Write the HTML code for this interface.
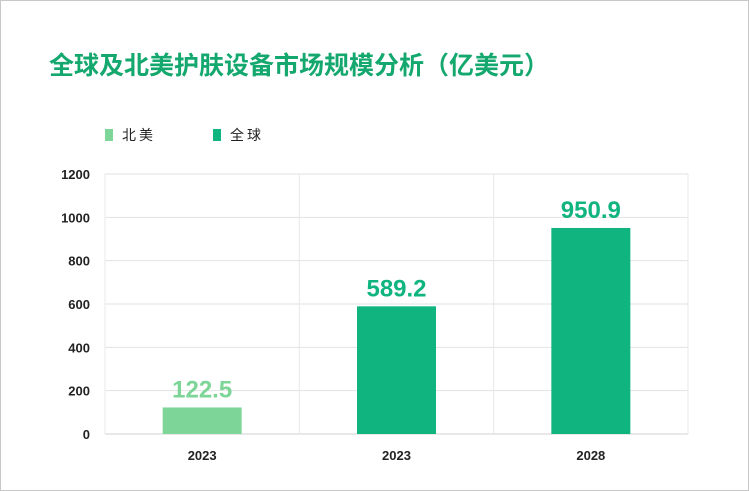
<!DOCTYPE html>
<html><head><meta charset="utf-8"><style>
body{margin:0;width:749px;height:491px;background:#fff;font-family:"Liberation Sans","Noto Sans CJK SC",sans-serif;overflow:hidden}
#frame{position:absolute;left:0;top:0;width:747px;height:489px;border:1px solid #c8c8c8}
</style></head><body>
<div id="frame"></div>
<svg width="749" height="491" style="position:absolute;left:0;top:0">
<text x="49" y="74" font-size="25" font-weight="bold" fill="#14a86f" font-family="Liberation Sans,Noto Sans CJK SC,sans-serif">全球及北美护肤设备市场规模分析（亿美元）</text>
<g>
<rect x="105" y="129" width="8" height="12" fill="#7dd598"/>
<text x="122" y="140" font-size="14" fill="#222" letter-spacing="3">北美</text>
<rect x="213" y="129" width="8" height="12" fill="#0fb47f"/>
<text x="230" y="140" font-size="14" fill="#222" letter-spacing="3">全球</text>
</g>
<g id="plot"></g>
</svg>
<script>
const categories=["2023","2023","2028"];
const values=[122.5,589.2,950.9];
const labels=["122.5","589.2","950.9"];
const colors=["#7dd598","#0fb47f","#0fb47f"];
const yTicks=[0,200,400,600,800,1000,1200];
const NS="http://www.w3.org/2000/svg";
const g=document.getElementById('plot');
const L=105,R=688,T=174,B=434,yMax=1200;
const y=v=>B-(v/yMax)*(B-T);
const bw=(R-L)/categories.length;
const x=i=>L+bw*(i+0.5);
function mk(t,a){const e=document.createElementNS(NS,t);for(const k in a)e.setAttribute(k,a[k]);g.appendChild(e);return e;}
yTicks.forEach(v=>{
 const l=mk('line',{x1:L,x2:R,y1:y(v),y2:y(v),stroke:v===0?'#d0d0d0':'#e2e2e2','stroke-width':1});
 
 
 const t=mk('text',{x:90,y:y(v)+5,'text-anchor':'end','font-size':13,'font-weight':'bold',fill:'#222'});
 t.textContent=v;
 
 
});
for(let i=0;i<=categories.length;i++){
 const l=mk('line',{x1:L+bw*i,x2:L+bw*i,y1:T,y2:B,stroke:'#e8e8e8','stroke-width':1});
 
 
}
categories.forEach((c,i)=>{
 const w=79;
 const r=mk('rect',{x:x(i)-w/2,y:y(values[i]),width:w,height:B-y(values[i]),fill:colors[i]});
 
 
 const t=mk('text',{x:x(i),y:y(values[i])-10,'text-anchor':'middle','font-size':24,'font-weight':'bold',fill:colors[i]});
 t.textContent=labels[i];
 
 
 const xl=mk('text',{x:x(i),y:460,'text-anchor':'middle','font-size':13,'font-weight':'bold',fill:'#222'});
 xl.textContent=c;
 
 
});
</script>
</body></html>
